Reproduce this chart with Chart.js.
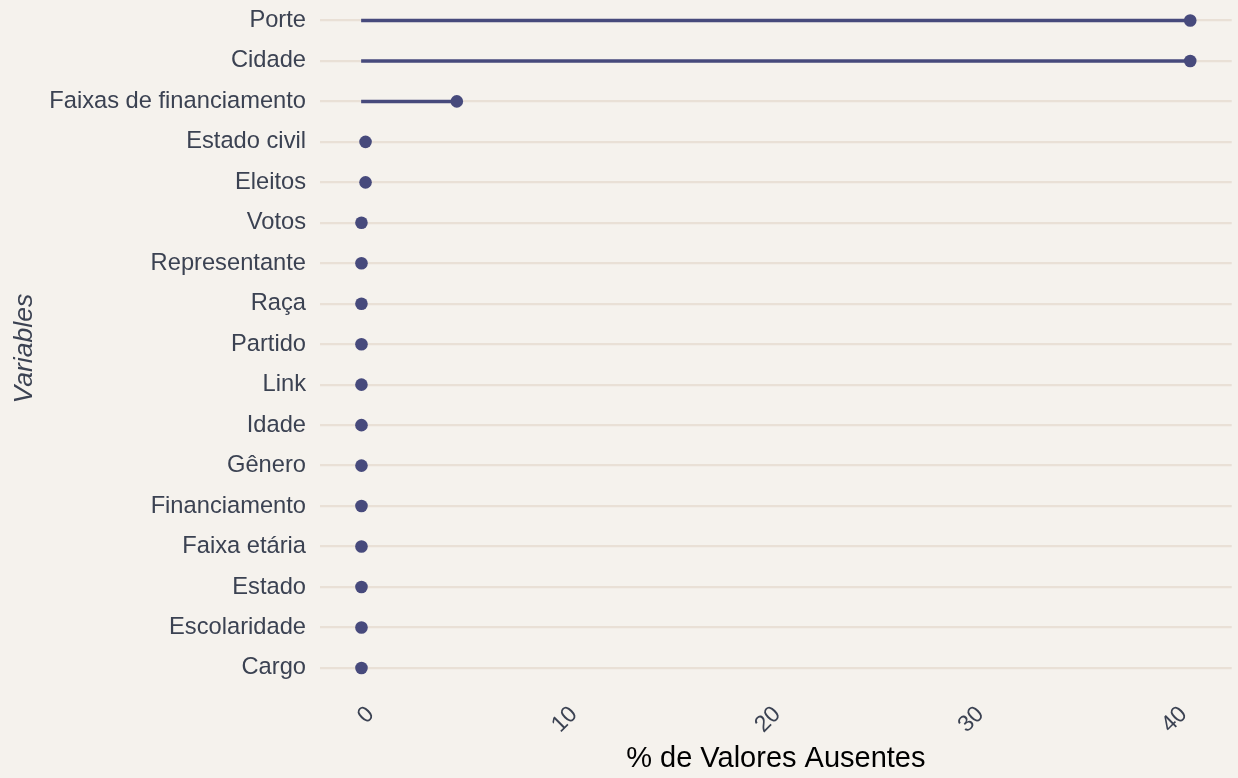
<!DOCTYPE html>
<html>
<head>
<meta charset="utf-8">
<script src="https://cdn.jsdelivr.net/npm/chart.js@4/dist/chart.umd.min.js"></script>
<style>
  html, body { margin: 0; padding: 0; background: #F5F2ED; }
  #wrap { width: 1238px; height: 778px; position: relative; }
</style>
</head>
<body>
<div id="wrap"><canvas id="c" width="1238" height="778"></canvas></div>
<script>
const categories = ['Porte', 'Cidade', 'Faixas de financiamento', 'Estado civil', 'Eleitos', 'Votos', 'Representante', 'Raça', 'Partido', 'Link', 'Idade', 'Gênero', 'Financiamento', 'Faixa etária', 'Estado', 'Escolaridade', 'Cargo'];
const missingPct = [40.77, 40.77, 4.69, 0.2, 0.2, 0, 0, 0, 0, 0, 0, 0, 0, 0, 0, 0, 0];
const xTickValues = [0, 10, 20, 30, 40];
const xTitle = '% de Valores Ausentes';
const yTitle = 'Variables';

const INK = '#3B4252';
const DOT = '#474A7C';
const GRID = '#E9E0D6';

const points = categories.map((c, i) => ({ x: missingPct[i], y: i }));
const segments = categories.map((c, i) => ({ x: [0, missingPct[i]], y: i }));

new Chart(document.getElementById('c'), {
  type: 'scatter',
  data: {
    datasets: [
      {
        type: 'scatter',
        data: points,
        backgroundColor: DOT,
        borderColor: DOT,
        pointRadius: 6.3,
        pointHoverRadius: 6.3,
        borderWidth: 0,
        order: 0
      },
      {
        type: 'bar',
        indexAxis: 'y',
        data: segments,
        backgroundColor: DOT,
        borderWidth: 0,
        barThickness: 2.8,
        order: 1
      }
    ]
  },
  options: {
    responsive: false,
    animation: false,
    layout: { padding: { left: 0, right: 0, top: 0, bottom: 0 } },
    plugins: { legend: { display: false }, tooltip: { enabled: false } },
    scales: {
      x: {
        type: 'linear',
        min: -2.04,
        max: 42.81,
        offset: false,
        bounds: 'data',
        border: { display: false },
        grid: { display: false, drawTicks: false, offset: false },
        afterBuildTicks: s => { s.ticks = xTickValues.map(v => ({ value: v })); },
        afterFit: s => { s.height = 87; s.paddingLeft = 0; s.paddingRight = 0; },
        ticks: {
          color: INK,
          font: { family: 'Liberation Sans, Arial, sans-serif', size: 23 },
          minRotation: 45,
          maxRotation: 45,
          padding: 10,
          labelOffset: 9,
          callback: v => String(v)
        },
        title: {
          display: true,
          text: xTitle,
          color: '#000000',
          font: { family: 'Liberation Sans, Arial, sans-serif', size: 29 },
          padding: { top: 0, bottom: 2 }
        }
      },
      y: {
        type: 'linear',
        reverse: true,
        min: -0.35,
        max: 16.57,
        offset: false,
        bounds: 'data',
        border: { display: false },
        grid: { color: GRID, lineWidth: 2.2, drawTicks: false, offset: false },
        afterBuildTicks: s => { s.ticks = categories.map((c, i) => ({ value: i })); },
        afterFit: s => { s.width = 320; s.paddingTop = 0; s.paddingBottom = 0; },
        ticks: {
          color: INK,
          font: { family: 'Liberation Sans, Arial, sans-serif', size: 23.7 },
          padding: 14,
          autoSkip: false,
          callback: v => categories[v]
        },
        title: {
          display: true,
          text: yTitle,
          color: INK,
          font: { family: 'Liberation Sans, Arial, sans-serif', size: 26.6, style: 'italic' },
          padding: { top: 9, bottom: 0 }
        }
      }
    }
  }
});
</script>
</body>
</html>
